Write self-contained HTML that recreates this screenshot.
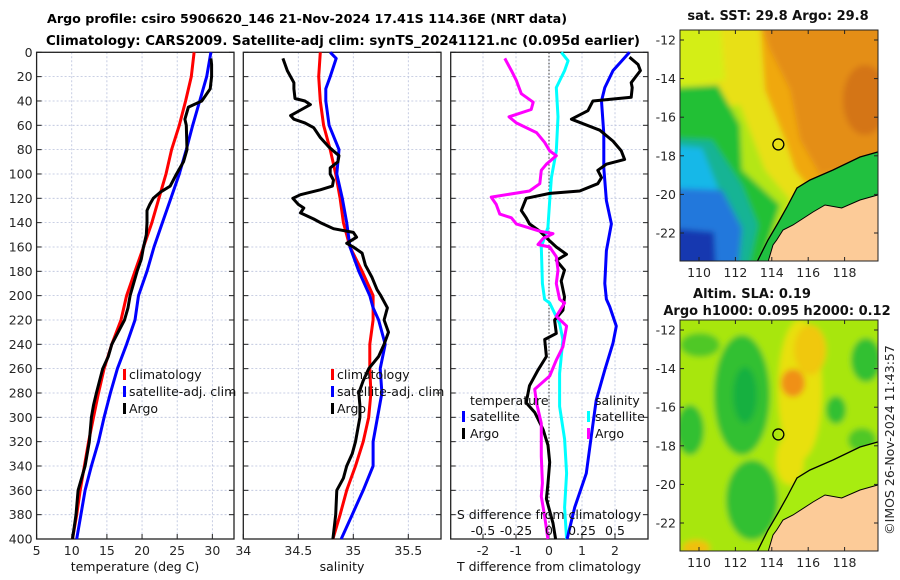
<!DOCTYPE html>
<html><head><meta charset="utf-8">
<style>
body{margin:0;background:#fff;}
svg{display:block;font-family:"DejaVu Sans","Liberation Sans",sans-serif;}
</style></head>
<body>
<svg id="fig" width="900" height="580" viewBox="0 0 900 580">
<defs>
<filter id="blur3" x="-10%" y="-10%" width="120%" height="120%"><feGaussianBlur stdDeviation="3"/></filter>
<clipPath id="clipTop"><rect x="680" y="30" width="198" height="231"/></clipPath>
<clipPath id="clipBot"><rect x="680" y="320" width="198" height="231"/></clipPath>
</defs>
<text x="47" y="23" font-size="12.7" font-weight="bold" textLength="520" lengthAdjust="spacingAndGlyphs">Argo profile: csiro 5906620_146 21-Nov-2024 17.41S 114.36E (NRT data)</text>
<text x="46" y="45" font-size="13" font-weight="bold" textLength="594" lengthAdjust="spacingAndGlyphs">Climatology: CARS2009. Satellite-adj clim: synTS_20241121.nc (0.095d earlier)</text>
<g id="panels"></g>
<g id="maps"></g>
</svg>
<script>
// ---- Panel 1: temperature (deg C) ----
const depthStd = [0,20,40,60,80,100,120,140,160,180,200,220,240,260,280,300,320,340,360,380,400];
const tempClim = [27.4,27.0,26.2,25.3,24.2,23.4,22.4,21.4,20.2,19.0,17.8,17.0,15.7,14.6,13.8,13.1,12.4,11.8,11.2,10.7,10.1];
const tempSat = [29.8,29.2,28.2,27.2,26.3,25.3,24.1,22.9,21.7,20.7,19.5,19.0,17.8,16.5,15.5,14.6,13.8,12.8,11.9,11.3,10.7];
const argoDepthT = [5,10,20,30,40,45,55,60,80,90,100,110,115,120,125,130,140,150,160,170,180,190,200,210,220,240,250,260,280,290,300,320,340,360,380,400];
const tempArgo = [29.8,29.9,29.9,29.7,28.5,26.6,26.1,26.3,26.4,25.9,24.9,24.0,22.6,21.6,21.1,20.7,20.7,20.6,20.2,19.9,19.3,18.8,18.3,18.0,17.5,15.7,15.2,14.4,13.5,13.1,12.8,12.5,11.9,10.9,10.6,10.1];
// ---- Panel 2: salinity ----
const salClim = [34.70,34.685,34.70,34.73,34.79,34.84,34.88,34.91,34.97,35.08,35.18,35.18,35.15,35.15,35.16,35.14,35.09,35.02,34.94,34.88,34.815];
const salSatDepth = [0,5,20,30,40,60,80,100,120,140,160,180,200,210,220,240,260,280,300,320,340,360,380,400];
const salSat = [34.79,34.845,34.79,34.75,34.75,34.78,34.87,34.85,34.90,34.94,34.97,35.05,35.15,35.18,35.23,35.29,35.245,35.26,35.22,35.18,35.18,35.09,34.99,34.89];
const argoDepthS = [5,15,25,30,38,40,43,47,52,55,58,62,70,78,85,90,95,100,105,110,113,117,120,125,128,132,137,140,145,148,152,157,160,165,175,185,195,200,210,220,230,240,250,260,270,280,290,300,320,330,340,350,360,380,400];
const salArgo = [34.36,34.40,34.46,34.46,34.47,34.56,34.61,34.53,34.43,34.46,34.56,34.64,34.70,34.78,34.87,34.86,34.79,34.79,34.82,34.81,34.70,34.52,34.45,34.50,34.55,34.52,34.64,34.70,34.82,35.0,35.03,34.94,35.0,35.08,35.11,35.17,35.215,35.25,35.31,35.28,35.32,35.28,35.23,35.14,35.09,35.05,35.06,35.06,35.02,34.99,34.94,34.91,34.85,34.84,34.815];
// ---- Panel 3: differences from climatology ----
const satTDepth = [0,15,29,40,67,95,122,141,163,190,203,209,225,239,261,286,316,346,374,400];
const satTDiff = [2.44,1.94,1.69,1.59,1.66,1.66,1.74,1.89,1.74,1.69,1.74,1.84,2.04,1.94,1.69,1.43,1.28,1.13,0.78,0.55];
const satSDepth = [0,7,15,29,53,81,103,122,144,160,190,203,206,223,236,264,291,318,346,374,400];
const satSDiff = [0.093,0.145,0.118,0.055,0.068,0.055,0.018,0.005,-0.008,-0.058,-0.05,-0.033,0.005,0.08,0.105,0.08,0.08,0.118,0.133,0.118,0.133];
const argoTDepth = [4,10,15,25,29,37,40,48,55,64,73,81,88,92,97,103,108,114,116,120,130,136,141,147,155,160,166,171,179,188,201,212,220,231,236,250,261,274,288,296,310,323,337,354,367,387,400];
const argoTDiff = [2.44,2.70,2.77,2.49,2.52,2.49,1.33,1.18,0.68,1.54,1.94,2.19,2.29,1.74,1.48,1.59,1.48,0.93,0.02,-0.69,-0.84,-0.69,-0.59,-0.28,0.02,0.22,0.53,0.22,0.47,0.37,0.47,0.42,0.17,0.22,-0.13,-0.08,-0.33,-0.59,-0.69,-0.43,-0.18,-0.03,0.02,-0.03,-0.08,0.12,0.2];
const argoSDepth = [5,15,23,34,41,47,51,53,58,66,74,81,85,92,97,108,114,119,125,133,136,141,147,149,153,158,160,168,179,190,203,206,217,225,242,253,266,277,288,305,332,354,365,381,400];
const argoSDiff = [-0.335,-0.285,-0.248,-0.21,-0.12,-0.135,-0.248,-0.303,-0.248,-0.095,-0.033,0.005,0.055,-0.02,-0.058,-0.07,-0.148,-0.438,-0.4,-0.373,-0.285,-0.248,-0.07,0.03,-0.045,-0.083,0.005,0.055,0.068,0.055,0.08,0.118,0.055,0.133,0.105,0.055,0.005,-0.108,-0.095,-0.058,-0.058,-0.05,-0.058,-0.033,-0.008];
// ---- tick labels ----
const depthTicks = [0,20,40,60,80,100,120,140,160,180,200,220,240,260,280,300,320,340,360,380,400];
const tempTicks = [5,10,15,20,25,30];
const salTicks = [34,34.5,35,35.5];
const tDiffTicks = [-2,-1,0,1,2];
const sDiffTicks = [-0.5,-0.25,0,0.25,0.5];
const sDiffTickLabels = ["-0.5","-0.25","0","0.25","0.5"];
const lonTicks = [110,112,114,116,118];
const latTicks = [-12,-14,-16,-18,-20,-22];

const NS = "http://www.w3.org/2000/svg";
function mk(tag, attrs, parent){const e=document.createElementNS(NS,tag);for(const k in attrs)e.setAttribute(k,attrs[k]);parent.appendChild(e);return e;}
const gP = document.getElementById('panels');
const Y0=52.3, Y1=539;
const yScale = p => Y0 + p*(Y1-Y0)/400;
function panelFrame(x0,x1,xs,ticks,labels,name,showY){
  const g = mk('g',{},gP);
  
  
  depthTicks.forEach(p=>{const y=yScale(p);
    const gl=mk('line',{x1:x0,x2:x1,y1:y,y2:y,stroke:'#b8c0dc','stroke-width':0.8,'stroke-dasharray':'2,2'},g);
    
    
    mk('line',{x1:x0,x2:x0+5,y1:y,y2:y,stroke:'#222','stroke-width':1},g);
    mk('line',{x1:x1-5,x2:x1,y1:y,y2:y,stroke:'#222','stroke-width':1},g);
    if(showY){const t=mk('text',{x:x0-4,y:y+4.5,'text-anchor':'end','font-size':12.5,fill:'#262626'},g);t.textContent=p;
      
      }
  });
  ticks.forEach((v,i)=>{const x=xs(v);
    if(x>x0+1&&x<x1-1){const gl=mk('line',{x1:x,x2:x,y1:Y0,y2:Y1,stroke:'#b8c0dc','stroke-width':0.8,'stroke-dasharray':'2,2'},g);
      
      }
    mk('line',{x1:x,x2:x,y1:Y1,y2:Y1-5,stroke:'#222'},g);
    const t=mk('text',{x:x,y:555,'text-anchor':'middle','font-size':12.5,fill:'#262626'},g);t.textContent=labels[i];
    
    
  });
  mk('rect',{x:x0,y:Y0,width:x1-x0,height:Y1-Y0,fill:'none',stroke:'#222','stroke-width':1.3},g);
  return g;
}
function line(g,xs,depths,vals,color,name,w){
  let d='';vals.forEach((v,i)=>{d+=(i?'L':'M')+xs(v).toFixed(1)+','+yScale(depths[i]).toFixed(1);});
  const p=mk('path',{d:d,fill:'none',stroke:color,'stroke-width':w||3,'stroke-linejoin':'round'},g);
  
  
  return p;
}
function text(g,x,y,s,str,name,anchor,weight){const t=mk('text',{x:x,y:y,'font-size':s,fill:'#111','text-anchor':anchor||'start','font-weight':weight||'normal'},g);t.textContent=str;
  
  return t;}
function legendMark(g,x,y,color){mk('rect',{x:x,y:y-11,width:3,height:11,fill:color},g);}

// panel 1
const xT = v => 36.6 + (v-5)*7.03;
const g1 = panelFrame(36.6,234,xT,tempTicks,tempTicks.map(String),'temperature-panel',true);
line(g1,xT,depthStd,tempClim,'#ff0000','temperature-climatology-line');
line(g1,xT,depthStd,tempSat,'#0000ff','temperature-satellite-line');
line(g1,xT,argoDepthT,tempArgo,'#000','temperature-argo-line');
text(g1,135,571,12.5,'temperature (deg C)','temperature-axis-title','middle');
legendMark(g1,123,380,'#ff0000');text(g1,129,379,12.5,'climatology','legend-climatology');
legendMark(g1,123,397,'#0000ff');text(g1,129,396,12.5,'satellite-adj. clim','legend-satellite');
legendMark(g1,123,414,'#000');text(g1,129,413,12.5,'Argo','legend-argo');

// panel 2
const xS = v => 243.3 + (v-34)*110;
const g2 = panelFrame(243.3,441,xS,salTicks,['34','34.5','35','35.5'],'salinity-panel',false);
line(g2,xS,depthStd,salClim,'#ff0000','salinity-climatology-line');
line(g2,xS,salSatDepth,salSat,'#0000ff','salinity-satellite-line');
line(g2,xS,argoDepthS,salArgo,'#000','salinity-argo-line');
text(g2,342,571,12.5,'salinity','salinity-axis-title','middle');
legendMark(g2,331,380,'#ff0000');text(g2,337,379,12.5,'climatology','legend-climatology');
legendMark(g2,331,397,'#0000ff');text(g2,337,396,12.5,'satellite-adj. clim','legend-satellite');
legendMark(g2,331,414,'#000');text(g2,337,413,12.5,'Argo','legend-argo');

// panel 3
const xD = v => 549 + v*33;
const xSD = v => xD(v*4);
const g3 = panelFrame(450.7,648,xD,tDiffTicks,tDiffTicks.map(String),'difference-panel',false);
mk('line',{x1:549,x2:549,y1:Y0,y2:Y1,stroke:'#333','stroke-width':1,'stroke-dasharray':'1.5,2'},g3);
line(g3,xSD,satSDepth,satSDiff,'#00ffff','salinity-satellite-diff-line');
line(g3,xD,satTDepth,satTDiff,'#0000ff','temperature-satellite-diff-line');
line(g3,xD,argoTDepth,argoTDiff,'#000','temperature-argo-diff-line');
line(g3,xSD,argoSDepth,argoSDiff,'#ff00ff','salinity-argo-diff-line');
text(g3,549,571,12.5,'T difference from climatology','t-diff-axis-title','middle');
text(g3,549,519,12.5,'S difference from climatology','s-diff-axis-title','middle');
sDiffTicks.forEach((v,i)=>{text(g3,xSD(v),535,12.5,sDiffTickLabels[i],'s-diff-tick-label','middle');});
text(g3,470,405,12.5,'temperature','legend-temperature-header');
legendMark(g3,462,422,'#0000ff');text(g3,470,421,12.5,'satellite','legend-t-satellite');
legendMark(g3,462,439,'#000');text(g3,470,438,12.5,'Argo','legend-t-argo');
text(g3,595,405,12.5,'salinity','legend-salinity-header');
legendMark(g3,587,422,'#00ffff');text(g3,595,421,12.5,'satellite','legend-s-satellite');
legendMark(g3,587,439,'#ff00ff');text(g3,595,438,12.5,'Argo','legend-s-argo');

// ---- maps ----
const gM = document.getElementById('maps');
const lonX = lon => 699 + (lon-110)*18.2;
const latY = (lat,off) => off + 40 + (-12-lat)*19.3;
const landPts = [[877.7,195],[860,200],[841.7,208],[825,205],[813,212],[793,225],[783,230],[776.7,240],[773,245],[768,262]];
const isoPts = [[877.7,152],[860,157],[833,170],[810,180],[797,188],[787,207],[778,223],[768,240],[757,262]];
function pts(arr,off){return arr.map(p=>p[0]+','+(p[1]+off)).join(' ');}
function poly(g,p,fill,name){const e=mk('polygon',{points:p,fill:fill},g);
  
  return e;}
function drawMap(off,name,fields){
  const g=mk('g',{},gM);
  
  
  const c=mk('g',{'clip-path':'url(#'+(off?'clipBot':'clipTop')+')'},g);
  const f=mk('g',{filter:'url(#blur3)'},c);
  fields(f,off);
  poly(c,pts(isoPts,off)+' 880,'+(262+off)+' 880,'+(150+off),off?'#a8ec10':'#20c040','shelf-zone');
  poly(c,pts(landPts,off)+' 880,'+(262+off)+' 880,'+(190+off),'#fccb98','land');
  const coast=mk('polyline',{points:pts(landPts,off),fill:'none',stroke:'#000','stroke-width':1},c);
  
  
  const iso=mk('polyline',{points:pts(isoPts,off),fill:'none',stroke:'#000','stroke-width':1.3},c);
  
  
  const circ=mk('circle',{cx:lonX(114.36),cy:latY(-17.41,off),r:5.5,fill:'none',stroke:'#000','stroke-width':1.3},g);
  
  
  mk('rect',{x:680,y:30+off,width:198,height:231,fill:'none',stroke:'#222','stroke-width':1},g);
  latTicks.forEach(l=>{const y=latY(l,off);
    mk('line',{x1:680,x2:684,y1:y,y2:y,stroke:'#222'},g);mk('line',{x1:874,x2:878,y1:y,y2:y,stroke:'#222'},g);
    text(g,676,y+4.5,12.5,String(l),'lat-tick-label','end').setAttribute('fill','#262626');});
  lonTicks.forEach(l=>{const x=lonX(l);
    mk('line',{x1:x,x2:x,y1:261+off,y2:257+off,stroke:'#222'},g);mk('line',{x1:x,x2:x,y1:30+off,y2:34+off,stroke:'#222'},g);
    text(g,x,277+off,12.5,String(l),'lon-tick-label','middle').setAttribute('fill','#262626');});
}
drawMap(0,'sst-map',(f,o)=>{
  mk('rect',{x:670,y:20,width:220,height:250,fill:'#f0a810'},f);
  poly(f,'760,20 890,20 890,160 820,175 800,140 790,90 770,50','#e48e12','sst-warm-region');
  mk('ellipse',{cx:865,cy:100,rx:22,ry:35,fill:'#d47414'},f);
  poly(f,'670,20 760,20 765,90 785,140 795,170 815,195 768,270 670,270','#e8e018','sst-yellow-region');
  poly(f,'670,20 720,20 725,80 670,90','#d4ee18','sst-yg-nw');
  poly(f,'670,110 740,105 765,170 790,200 765,270 670,270','#b4e614','sst-yg-region');
  poly(f,'670,88 718,85 740,125 742,170 780,205 760,270 670,270','#22c034','sst-green-region');
  poly(f,'670,138 712,140 742,185 758,225 748,270 670,270','#14b494','sst-teal-region');
  poly(f,'670,145 702,148 718,188 700,210 670,210','#18b8e8','sst-cyan-region');
  poly(f,'670,188 722,190 742,228 738,270 670,270','#2478dc','sst-blue-region');
  poly(f,'670,228 714,232 716,270 670,270','#1838b0','sst-darkblue-region');
});
drawMap(290,'sla-map',(f,o)=>{
  mk('rect',{x:670,y:310,width:220,height:250,fill:'#a8e60a'},f);
  mk('ellipse',{cx:800,cy:390,rx:22,ry:70,fill:'#e8e010'},f);
  mk('ellipse',{cx:790,cy:460,rx:14,ry:25,fill:'#e8e010'},f);
  mk('ellipse',{cx:810,cy:350,rx:16,ry:25,fill:'#f0c810'},f);
  mk('ellipse',{cx:793,cy:383,rx:12,ry:14,fill:'#f09018'},f);
  mk('ellipse',{cx:742,cy:395,rx:28,ry:60,fill:'#30c030'},f);
  mk('ellipse',{cx:752,cy:500,rx:26,ry:40,fill:'#30c030'},f);
  mk('ellipse',{cx:745,cy:395,rx:12,ry:28,fill:'#18b040'},f);
  mk('ellipse',{cx:690,cy:430,rx:14,ry:25,fill:'#30c030'},f);
  mk('ellipse',{cx:700,cy:345,rx:20,ry:12,fill:'#50c828'},f);
  mk('ellipse',{cx:866,cy:360,rx:15,ry:22,fill:'#30c030'},f);
  mk('ellipse',{cx:836,cy:410,rx:10,ry:14,fill:'#30c030'},f);
  mk('ellipse',{cx:862,cy:440,rx:14,ry:12,fill:'#50c828'},f);
  mk('ellipse',{cx:696,cy:548,rx:14,ry:8,fill:'#f0c010'},f);
});
text(gM,778,20,13,'sat. SST: 29.8 Argo: 29.8','sst-map-title','middle','bold');
text(gM,752,298,13,'Altim. SLA: 0.19','sla-map-title','middle','bold');
text(gM,777,315,13,'Argo h1000: 0.095 h2000: 0.12','sla-map-subtitle','middle','bold');
const cr=text(gM,0,0,12.5,'©IMOS 26-Nov-2024 11:43:57','imos-timestamp','middle');
cr.setAttribute('transform','translate(894,440) rotate(-90)');
cr.setAttribute('fill','#262626');
</script>
</body></html>
